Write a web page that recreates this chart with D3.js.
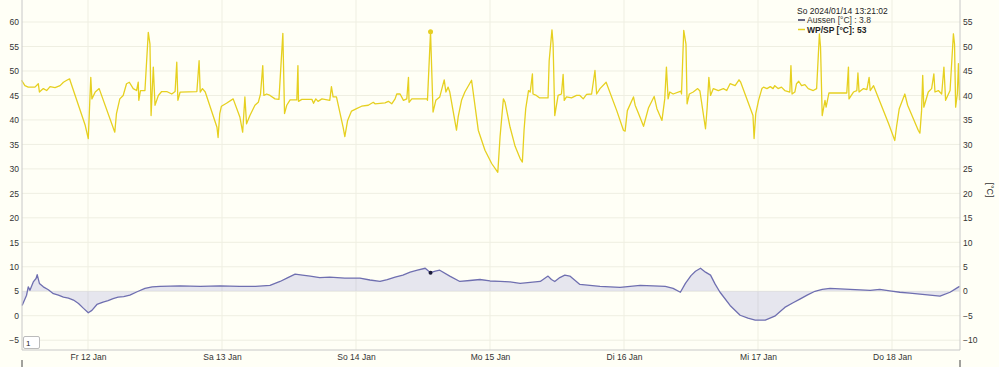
<!DOCTYPE html>
<html><head><meta charset="utf-8">
<script src="https://cdn.jsdelivr.net/npm/d3@7"></script>
<style>
html,body{margin:0;padding:0;background:#fffff6;}
svg{display:block;font-family:"Liberation Sans",Arial,sans-serif;}
</style></head>
<body>
<svg id="chart" width="999" height="367"></svg>
<script>
// ---- data (hours relative to 2024-01-12 00:00, values in °C) ----
const dayLabels = ["Fr 12 Jan","Sa 13 Jan","So 14 Jan","Mo 15 Jan","Di 16 Jan","Mi 17 Jan","Do 18 Jan"];
const leftTicks = [-5,0,5,10,15,20,25,30,35,40,45,50,55,60];
const rightTicks = [-10,-5,0,5,10,15,20,25,30,35,40,45,50,55];

const wpHours = [-11.9,-11.3,-10.7,-9.5,-8.9,-8.7,-8.0,-7.4,-6.8,-5.9,-5.0,-4.4,-3.8,-3.3,-3.1,-0.5,0.05,0.5,0.7,1.3,2.0,4.8,5.1,5.7,6.3,6.9,7.4,8.1,8.7,9.0,9.1,9.4,10.2,10.8,11.1,11.3,11.7,12.0,12.6,13.2,14.1,15.0,15.6,15.9,16.1,16.5,19.5,19.9,20.1,20.5,21.0,23.1,23.3,23.6,23.9,24.8,26.0,27.2,27.7,28.1,28.4,29.0,29.9,30.5,30.9,31.3,31.5,32.0,32.6,33.5,34.2,34.9,35.2,35.6,36.2,37.4,37.6,37.7,38.3,40.1,40.4,40.8,41.2,41.9,43.3,43.6,43.9,44.5,45.7,46.0,46.5,47.2,48.1,49.0,50.2,51.1,51.4,53.2,53.8,54.4,55.0,55.3,55.9,56.5,57.1,57.4,57.5,58.0,60.7,60.8,61.35,61.8,62.3,63.0,63.8,64.1,64.5,64.8,66.0,66.3,66.9,67.5,68.7,69.9,71.1,72.3,73.4,73.8,74.4,74.7,75.6,76.5,77.4,77.8,78.1,78.4,78.9,79.2,79.6,79.7,80.3,80.9,82.4,82.6,83.1,83.3,83.6,84.2,84.8,85.1,85.3,85.7,86.6,87.5,88.1,88.7,89.3,90.2,90.8,91.1,91.7,92.8,94.7,95.9,96.2,96.6,97.7,98.0,98.6,99.5,100.4,101.4,101.9,102.8,103.3,103.6,103.9,104.2,104.8,106.2,106.3,106.7,107.1,107.3,107.7,108.4,109.2,109.6,110.6,110.9,111.2,111.5,112.0,112.9,113.8,114.4,115.0,115.9,116.6,116.9,119.1,119.3,119.6,120.1,120.7,121.0,121.6,122.2,122.7,123.0,123.6,124.2,124.8,125.7,125.9,126.1,126.6,126.9,127.3,127.8,128.4,129.0,129.9,130.5,131.0,131.2,131.5,132.0,132.2,132.7,135.9,136.2,136.3,137.1,137.7,137.9,138.1,138.9,139.5,139.9,140.1,140.7,143.4,144.5,144.8,145.3,146.3,146.8,148.7,149.0,149.3,149.5,149.7,150.5,151.1,151.5,151.7,152.3,152.9,153.3,153.6,154.4,155.0,155.2,155.4,155.7,155.9,156.1];
const wpValues = [43.1,42.0,41.7,41.7,42.4,40.7,41.4,41.0,41.8,41.6,42.0,42.7,43.1,43.4,42.7,33.9,31.2,43.7,39.3,40.7,41.4,32.5,36.3,39.3,40.0,42.4,42.7,41.4,41.0,42.7,39.0,41.0,41.0,52.9,50.5,35.9,45.8,38.0,40.0,40.8,40.8,40.3,40.8,46.8,39.0,40.7,40.8,47.1,40.7,41.4,40.7,33.5,31.4,36.3,37.8,38.4,39.3,35.6,32.5,39.7,34.2,35.9,38.0,38.6,40.3,46.1,40.0,40.3,40.0,39.3,39.2,52.7,36.3,38.0,39.1,39.1,46.1,38.8,39.2,39.2,38.4,39.3,38.8,39.3,39.0,41.8,39.7,39.7,33.5,31.6,34.9,36.8,37.3,37.8,38.0,38.6,38.3,38.5,38.8,38.3,39.3,40.3,40.3,39.0,39.3,43.7,38.6,39.3,39.3,39.0,53.0,36.6,39.0,39.7,43.2,40.7,41.7,40.7,32.9,35.6,39.0,40.7,43.1,32.9,28.8,26.1,24.3,31.5,39.3,38.6,33.5,29.6,27.1,26.4,32.9,37.3,41.0,40.7,44.4,40.3,40.0,39.5,39.5,47.1,53.4,50.5,35.9,40.0,40.3,44.3,39.0,39.7,39.5,40.0,40.0,39.3,40.2,40.3,45.1,40.3,41.4,42.7,36.9,32.9,32.7,36.9,39.7,38.0,36.3,33.7,37.5,39.8,37.3,34.9,39.3,45.8,39.3,40.7,40.3,40.9,40.3,53.3,50.5,38.3,40.3,40.7,41.4,40.9,33.2,37.6,43.7,40.0,41.4,41.0,41.4,41.0,42.4,42.0,43.2,42.7,35.9,31.2,36.3,39.0,41.4,41.7,41.4,41.8,41.4,42.0,41.4,41.7,41.0,40.7,46.1,40.3,40.7,42.4,42.9,42.0,42.2,41.4,41.0,41.4,52.6,49.9,35.9,39.0,37.6,40.5,40.5,45.8,39.3,40.7,41.0,44.6,40.7,41.4,41.2,43.7,41.0,42.0,34.2,30.8,33.5,37.3,40.3,38.0,32.9,32.3,36.9,44.1,37.6,40.7,41.4,44.4,40.7,41.0,40.3,45.8,39.0,41.0,52.6,50.5,37.6,40.3,46.5,39.0];

const aussenHours = [-11.8,-11.0,-10.7,-10.4,-9.8,-9.3,-9.1,-8.7,-8.0,-7.1,-6.2,-5.3,-4.4,-3.5,-2.6,-1.7,-0.8,0.05,0.7,1.6,2.7,3.6,4.5,5.4,6.4,7.5,8.8,10.2,11.5,12.9,16.5,20.1,23.6,27.2,30.0,32.6,34.4,35.8,37.1,38.4,39.8,41.5,43.3,46.0,48.7,50.5,52.3,53.6,55.0,56.4,57.7,59.0,60.4,61.35,62.2,63.0,64.8,66.6,68.4,70.2,72.0,73.8,75.6,77.4,79.2,81.0,82.4,83.0,83.6,84.5,85.4,86.3,88.1,89.9,91.7,93.5,95.3,97.1,98.9,101.2,103.4,104.8,106.1,107.0,108.0,108.8,109.7,110.6,111.5,112.3,113.2,115.0,116.8,118.2,119.5,121.3,123.0,124.8,126.2,127.5,128.8,130.2,131.5,132.9,134.7,136.5,138.3,140.1,141.8,143.6,145.4,147.2,149.0,150.8,152.6,154.4,155.8,156.1];
const aussenValues = [-2.9,-0.8,0.9,0.2,1.9,2.6,3.4,1.6,0.9,0.3,-0.5,-0.8,-1.2,-1.4,-1.8,-2.5,-3.5,-4.4,-3.9,-2.7,-2.2,-1.9,-1.5,-1.2,-1.1,-0.8,-0.1,0.6,0.9,1.0,1.1,1.0,1.1,1.0,1.0,1.2,2.0,2.8,3.5,3.3,3.1,2.8,2.9,2.7,2.7,2.3,2.0,2.4,2.9,3.3,3.9,4.3,4.7,3.8,4.1,4.3,3.1,2.0,2.2,2.4,2.1,2.0,1.9,1.6,1.8,2.0,3.1,2.4,2.0,2.8,3.3,3.1,1.4,1.2,1.0,0.9,0.8,1.0,1.2,1.1,1.0,0.6,-0.2,1.6,3.2,4.1,4.7,3.9,3.3,1.5,-0.2,-2.9,-4.9,-5.5,-5.9,-5.9,-5.1,-3.3,-2.4,-1.6,-0.8,0.0,0.4,0.6,0.5,0.4,0.3,0.2,0.4,0.1,-0.2,-0.4,-0.6,-0.8,-1.0,-0.2,0.8,1.0];

const legendTime = "So 2024/01/14 13:21:02";
const highlightHour = 61.35;

// ---- layout ----
const svg = d3.select("#chart");
const plot = {left: 22, right: 960, top: 0, bottom: 350};
const base = Date.UTC(2024, 0, 12);
const toDate = h => new Date(base + h * 3600e3);

const x = d3.scaleUtc()
  .domain([toDate(-11.82), toDate(156.18)])
  .range([plot.left, plot.right]);
const yL = d3.scaleLinear().domain([-7, 64.5]).range([plot.bottom, plot.top]);
const yR = d3.scaleLinear().domain([-12, 59.5]).range([plot.bottom, plot.top]);

const dayDates = dayLabels.map((d, i) => toDate(24 * i));

// gridlines
const grid = svg.append("g").attr("class", "grid");
grid.selectAll("line.h").data(leftTicks).join("line")
  .attr("x1", plot.left).attr("x2", plot.right)
  .attr("y1", d => yL(d)).attr("y2", d => yL(d))
  .attr("stroke", "#efefe2").attr("stroke-width", 1);
grid.selectAll("line.v").data(dayDates).join("line")
  .attr("x1", d => x(d)).attr("x2", d => x(d))
  .attr("y1", plot.top).attr("y2", plot.bottom)
  .attr("stroke", "#efefe2").attr("stroke-width", 1);

const aussen = aussenHours.map((h, i) => ({t: toDate(h), v: aussenValues[i]}));
const wp = wpHours.map((h, i) => ({t: toDate(h), v: wpValues[i]}));

// Aussen area (filled to 0 on right axis)
svg.append("path").datum(aussen)
  .attr("d", d3.area().x(d => x(d.t)).y0(yR(0)).y1(d => yR(d.v)))
  .attr("fill", "#6c6cc8").attr("fill-opacity", 0.17);
svg.append("path").datum(aussen)
  .attr("d", d3.line().x(d => x(d.t)).y(d => yR(d.v)))
  .attr("fill", "none").attr("stroke", "#6f6fb0").attr("stroke-width", 1.3)
  .attr("stroke-linejoin", "round");

svg.append("path").datum(wp)
  .attr("d", d3.line().x(d => x(d.t)).y(d => yR(d.v)))
  .attr("fill", "none").attr("stroke", "#e6d020").attr("stroke-width", 1.3)
  .attr("stroke-linejoin", "round");

// highlight points
const hi = toDate(highlightHour);
const wpHi = wp.find(d => Math.abs(d.t - hi) < 1000 * 600);
const auHi = aussen.find(d => Math.abs(d.t - hi) < 1000 * 600);
svg.append("circle").attr("cx", x(wpHi.t)).attr("cy", yR(wpHi.v)).attr("r", 2.5).attr("fill", "#e6cf22");
svg.append("circle").attr("cx", x(auHi.t)).attr("cy", yR(auHi.v)).attr("r", 2).attr("fill", "#1a1a3a");

// axes lines
const axisColor = "#c8c8c8";
svg.append("line").attr("x1", plot.left).attr("x2", plot.left).attr("y1", plot.top).attr("y2", plot.bottom).attr("stroke", axisColor);
svg.append("line").attr("x1", plot.right).attr("x2", plot.right).attr("y1", plot.top).attr("y2", plot.bottom).attr("stroke", axisColor);
svg.append("line").attr("x1", plot.left).attr("x2", plot.right).attr("y1", plot.bottom).attr("y2", plot.bottom).attr("stroke", axisColor);

// left axis
const gl = svg.append("g").attr("transform", `translate(${plot.left},0)`)
  .call(d3.axisLeft(yL).tickValues(leftTicks).tickSize(0).tickPadding(3).tickFormat(d3.format("d")));
gl.select(".domain").remove();
gl.selectAll("text").attr("font-size", 8.5).attr("fill", "#333").attr("font-family", "Liberation Sans, Arial");

// right axis
const gr = svg.append("g").attr("transform", `translate(${plot.right},0)`)
  .call(d3.axisRight(yR).tickValues(rightTicks).tickSize(0).tickPadding(3).tickFormat(d3.format("d")));
gr.select(".domain").remove();
gr.selectAll("text").attr("font-size", 8.5).attr("fill", "#333").attr("font-family", "Liberation Sans, Arial");

// bottom axis
const gb = svg.append("g").attr("transform", `translate(0,${plot.bottom})`)
  .call(d3.axisBottom(x).tickValues(dayDates).tickSize(0).tickPadding(4).tickFormat((d, i) => dayLabels[i]));
gb.select(".domain").remove();
gb.selectAll("text").attr("font-size", 8.5).attr("fill", "#333").attr("font-family", "Liberation Sans, Arial");

// y2 label
svg.append("text").attr("transform", "translate(987,190) rotate(90)")
  .attr("text-anchor", "middle").attr("font-size", 9).attr("fill", "#333").text("[°C]");

// roller box
svg.append("rect").attr("x", 23.5).attr("y", 336.5).attr("width", 16).attr("height", 12)
  .attr("fill", "#fff").attr("stroke", "#bbb").attr("rx", 1.5);
svg.append("text").attr("x", 26).attr("y", 346).attr("font-size", 8).attr("fill", "#222").text("1");

// small marks at bottom
svg.append("line").attr("x1", 22).attr("x2", 22).attr("y1", 360).attr("y2", 367).attr("stroke", "#444");
svg.append("line").attr("x1", 960).attr("x2", 960).attr("y1", 360).attr("y2", 367).attr("stroke", "#444");

// legend
const lg = svg.append("g").attr("font-size", 8.5).attr("fill", "#222");
lg.append("text").attr("x", 797).attr("y", 14).text(legendTime);
lg.append("line").attr("x1", 798).attr("x2", 805).attr("y1", 20).attr("y2", 20).attr("stroke", "#33335a").attr("stroke-width", 1.5);
lg.append("text").attr("x", 807).attr("y", 23).attr("fill", "#333").text("Aussen [°C] : " + auHi.v);
lg.append("line").attr("x1", 798).attr("x2", 805).attr("y1", 29.5).attr("y2", 29.5).attr("stroke", "#e6d020").attr("stroke-width", 1.5);
lg.append("text").attr("x", 807).attr("y", 32.5).attr("font-weight", "bold").attr("fill", "#222").text("WP/SP [°C]: " + wpHi.v.toFixed(0));
</script>
</body></html>
